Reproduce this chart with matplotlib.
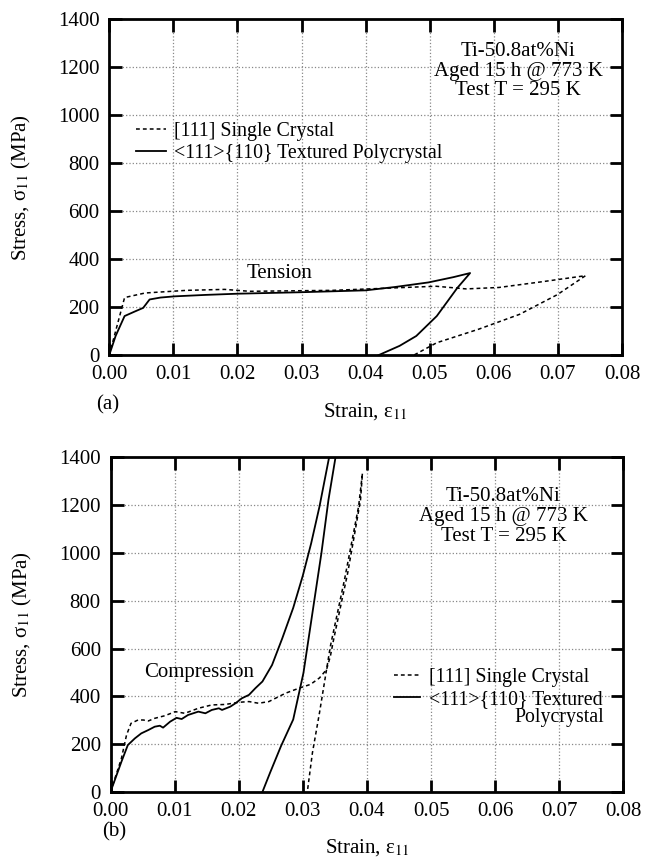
import numpy as np
import matplotlib
matplotlib.use('Agg')
import matplotlib.pyplot as plt

plt.rcParams['font.family'] = ['Liberation Serif', 'DejaVu Serif']
plt.rcParams['mathtext.fontset'] = 'stix'

# tension (a)
ten_poly_strain = [0.0, 0.0010, 0.0024, 0.0040, 0.0053, 0.0063, 0.0080, 0.0102, 0.0150, 0.0200,
                   0.0297, 0.0400, 0.0446, 0.0498, 0.0537, 0.0563,
                   0.0543, 0.0511, 0.0479, 0.0453, 0.0420]
ten_poly_stress = [0, 80, 163, 182, 197, 232, 240, 245, 251, 256,
                   262, 270, 284, 303, 325, 342,
                   280, 163, 80, 39, 0]
ten_sc_strain = [0.0, 0.0012, 0.0024, 0.0056, 0.0121, 0.0180, 0.0219, 0.0349, 0.0480, 0.0510,
                 0.0557, 0.0608, 0.0673, 0.0743,
                 0.0699, 0.0640, 0.0576, 0.0511, 0.0475]
ten_sc_stress = [0, 120, 240, 259, 270, 274, 266, 270, 284, 287,
                 276, 282, 305, 331,
                 252, 170, 108, 52, 0]

# compression (b)
comp_poly_strain = [0.0, 0.0017, 0.0027, 0.0038, 0.0048, 0.0059, 0.0069, 0.0077, 0.0082, 0.0093,
                    0.0103, 0.0111, 0.0121, 0.0137, 0.0148, 0.0158, 0.0169, 0.0174, 0.0187,
                    0.0195, 0.0205, 0.0216, 0.0226, 0.0237, 0.0252, 0.0268, 0.0285,
                    0.0300, 0.0313, 0.0326, 0.0341,
                    0.0351, 0.0340, 0.0329, 0.0315, 0.0301, 0.0285, 0.0266, 0.0249, 0.0237]
comp_poly_stress = [0, 126, 196, 224, 245, 259, 273, 277, 269, 294,
                    310, 305, 322, 336, 329, 343, 350, 343, 357,
                    371, 392, 406, 434, 462, 531, 643, 770,
                    905, 1040, 1194, 1400,
                    1400, 1222, 999, 749, 498, 303, 192, 81, 0]
comp_sc_strain = [0.0, 0.0017, 0.0025, 0.0032, 0.0043, 0.0051, 0.0059, 0.0069, 0.0085, 0.0101,
                  0.0116, 0.0137, 0.0158, 0.0179, 0.0200, 0.0216, 0.0231, 0.0247, 0.0273,
                  0.0294, 0.0312, 0.0326, 0.0337,
                  0.0343, 0.0348, 0.0359, 0.0370, 0.0381, 0.0390, 0.0393,
                  0.0387, 0.0365, 0.0343, 0.0326, 0.0315, 0.0307]
comp_sc_stress = [0, 140, 238, 287, 301, 301, 297, 308, 319, 336,
                  329, 350, 364, 366, 375, 378, 371, 378, 413,
                  434, 450, 477, 512,
                  568, 637, 777, 916, 1083, 1222, 1333,
                  1194, 888, 610, 331, 164, 0]

x_ticks = [0.00, 0.01, 0.02, 0.03, 0.04, 0.05, 0.06, 0.07, 0.08]
y_ticks = [0, 200, 400, 600, 800, 1000, 1200, 1400]
info_lines = ['Ti-50.8at%Ni', 'Aged 15 h @ 773 K', 'Test T = 295 K']

fig = plt.figure(figsize=(6.5, 8.58), dpi=100)
ax_a = fig.add_axes([0.168, 0.586, 0.789, 0.392])
ax_b = fig.add_axes([0.170, 0.077, 0.789, 0.390])

fs = 15
lfs = 14.3


def style_axes(ax):
    ax.set_xlim(0, 0.08)
    ax.set_ylim(0, 1400)
    ax.set_xticks(x_ticks)
    ax.set_xticklabels([f'{t:.2f}' for t in x_ticks])
    ax.set_yticks(y_ticks)
    ax.tick_params(direction='in', length=9, width=2, top=True, right=True,
                   labelsize=fs, pad=7)
    ax.grid(True, linestyle=':', color='#888888', linewidth=0.9)
    for s in ax.spines.values():
        s.set_linewidth(2)
    ax.set_xlabel('Strain, ε$_{11}$', fontsize=fs, labelpad=12)
    ax.set_ylabel('Stress, σ$_{11}$ (MPa)', fontsize=fs, labelpad=18)


# panel (a)
style_axes(ax_a)
ax_a.plot(ten_sc_strain, ten_sc_stress, color='black', linestyle=(0, (2.5, 2)), linewidth=1.1,
          label='[111] Single Crystal')
ax_a.plot(ten_poly_strain, ten_poly_stress, color='black', linewidth=1.3,
          label='<111>{110} Textured Polycrystal')
ax_a.legend(loc='upper left', bbox_to_anchor=(0.025, 0.735), frameon=False, fontsize=lfs,
            handlelength=1.5, handletextpad=0.4, labelspacing=0.15, borderpad=0.2)
for i, line in enumerate(info_lines):
    ax_a.text(0.0638, 1265 - i * 82, line, ha='center', va='center', fontsize=fs)
ax_a.text(0.0266, 339, 'Tension', ha='center', va='center', fontsize=fs)
ax_a.text(-0.0003, -208, '(a)', ha='center', va='center', fontsize=fs)

# panel (b)
style_axes(ax_b)
ax_b.plot(comp_sc_strain, comp_sc_stress, color='black', linestyle=(0, (2.5, 2)), linewidth=1.1,
          label='[111] Single Crystal')
ax_b.plot(comp_poly_strain, comp_poly_stress, color='black', linewidth=1.3,
          label='<111>{110} Textured')
ax_b.legend(loc='upper left', bbox_to_anchor=(0.525, 0.413), frameon=False, fontsize=lfs,
            handlelength=1.35, handletextpad=0.45, labelspacing=0.15, borderpad=0.2)
ax_b.text(0.0770, 310, 'Polycrystal', ha='right', va='center', fontsize=lfs)
for i, line in enumerate(info_lines):
    ax_b.text(0.0613, 1236 - i * 84, line, ha='center', va='center', fontsize=fs)
ax_b.text(0.0139, 498, 'Compression', ha='center', va='center', fontsize=fs)
ax_b.text(0.0006, -167, '(b)', ha='center', va='center', fontsize=fs)

fig.savefig('out.png', dpi=100)
